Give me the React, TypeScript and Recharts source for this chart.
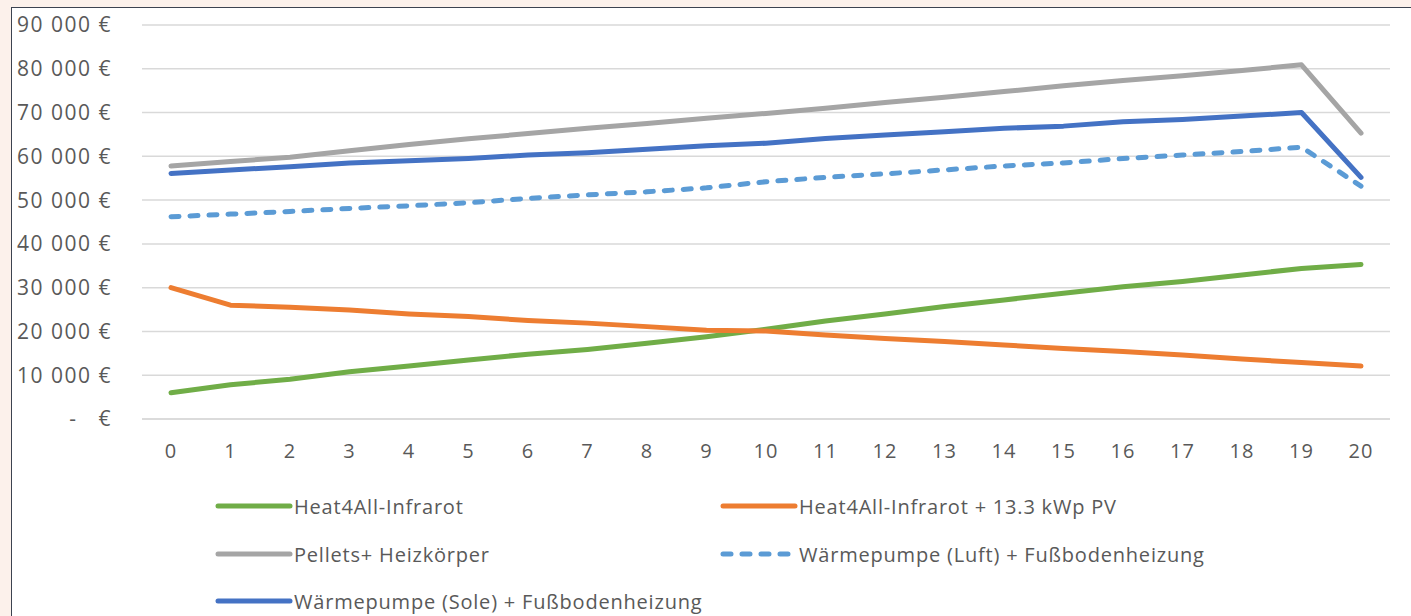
import { LineChart, Line, XAxis, YAxis, CartesianGrid } from 'recharts';

const years = ['0', '1', '2', '3', '4', '5', '6', '7', '8', '9', '10', '11', '12', '13', '14', '15', '16', '17', '18', '19', '20'];

const infrarot = [6000, 7800, 9100, 10800, 12100, 13500, 14800, 15900, 17300, 18800, 20500, 22400, 24000, 25700, 27200, 28700, 30200, 31400, 32900, 34400, 35300];
const infrarotPv = [30000, 26000, 25500, 24900, 24000, 23400, 22500, 21900, 21100, 20300, 20100, 19200, 18400, 17700, 16900, 16100, 15400, 14600, 13700, 12900, 12100];
const pellets = [57800, 58800, 59800, 61300, 62700, 64000, 65200, 66400, 67500, 68700, 69800, 71000, 72300, 73500, 74800, 76100, 77300, 78400, 79600, 80900, 65300];
const wpLuft = [46200, 46800, 47400, 48100, 48700, 49400, 50400, 51200, 51900, 52800, 54200, 55200, 56000, 56900, 57800, 58500, 59500, 60300, 61100, 62100, 53200];
const wpSole = [56100, 56900, 57600, 58500, 59000, 59500, 60300, 60800, 61600, 62400, 63000, 64100, 64900, 65600, 66400, 66900, 67900, 68400, 69200, 70000, 55200];

const yTicks = [0, 10000, 20000, 30000, 40000, 50000, 60000, 70000, 80000, 90000];

const series = [
  { key: 'infrarot', name: 'Heat4All-Infrarot', values: infrarot, color: '#70ad47', dash: undefined },
  { key: 'infrarotPv', name: 'Heat4All-Infrarot + 13.3 kWp PV', values: infrarotPv, color: '#ed7d31', dash: undefined },
  { key: 'pellets', name: 'Pellets+ Heizkörper', values: pellets, color: '#a5a5a5', dash: undefined },
  { key: 'wpLuft', name: 'Wärmepumpe (Luft) + Fußbodenheizung', values: wpLuft, color: '#5b9bd5', dash: '8 11' },
  { key: 'wpSole', name: 'Wärmepumpe (Sole) + Fußbodenheizung', values: wpSole, color: '#4472c4', dash: undefined },
];

const data = years.map((year, i) => {
  const row: Record<string, string | number> = { year };
  series.forEach((s) => {
    row[s.key] = s.values[i];
  });
  return row;
});

const FONT = "'Open Sans', sans-serif";
const TEXT = '#595959';

const formatEuro = (v: number) => {
  if (v === 0) return '-\u00a0\u00a0\u00a0€';
  const s = String(Math.round(v)).replace(/\B(?=(\d{3})+(?!\d))/g, '\u00a0');
  return `${s}\u00a0€`;
};

// legend: left col, right col, next row
const legendPos = [
  { left: 203, top: 506 },
  { left: 708, top: 506 },
  { left: 203, top: 554 },
  { left: 708, top: 554 },
  { left: 203, top: 601 },
];

export default function App() {
  return (
    <div
      style={{
        position: 'fixed',
        left: 0,
        top: 0,
        width: 1411,
        height: 616,
        background: '#fcf1eb',
        overflow: 'hidden',
      }}
    >
      <div
        style={{
          position: 'absolute',
          left: 11,
          top: 7,
          width: 1420,
          height: 640,
          background: '#ffffff',
          borderTop: '1px solid #3c4350',
          borderLeft: '1px solid #3c4350',
        }}
      >
        <LineChart
          width={1399}
          height={608}
          data={data}
          margin={{ top: 17, right: 21, bottom: 167, left: 0 }}
        >
          <CartesianGrid vertical={false} stroke="#d9d9d9" strokeWidth={1.5} />
          <XAxis
            dataKey="year"
            height={30}
            padding={{ left: 29, right: 29 }}
            axisLine={{ stroke: '#d9d9d9', strokeWidth: 1.5 }}
            tickLine={false}
            tickSize={0}
            tickMargin={25}
            interval={0}
            tick={{ fontFamily: FONT, fontSize: 20, fill: TEXT, letterSpacing: 1 }}
          />
          <YAxis
            width={130}
            domain={[0, 90000]}
            ticks={yTicks}
            interval={0}
            axisLine={false}
            tickLine={false}
            tickSize={0}
            tickMargin={30}
            tickFormatter={formatEuro}
            tick={{ fontFamily: FONT, fontSize: 21, fill: TEXT, letterSpacing: 1.5 }}
          />
          {series.map((s) => (
            <Line
              key={s.key}
              type="linear"
              dataKey={s.key}
              name={s.name}
              stroke={s.color}
              strokeWidth={5}
              strokeDasharray={s.dash}
              strokeLinecap="round"
              strokeLinejoin="round"
              dot={false}
              activeDot={false}
              isAnimationActive={false}
            />
          ))}
        </LineChart>
        {series.map((s, i) => (
          <div
            key={s.key}
            style={{
              position: 'absolute',
              left: legendPos[i].left,
              top: legendPos[i].top - 8 - 14,
              height: 28,
              display: 'flex',
              alignItems: 'center',
              fontFamily: FONT,
              fontSize: 20,
              letterSpacing: 0.8,
              color: TEXT,
              whiteSpace: 'nowrap',
            }}
          >
            <svg width={79} height={10}>
              <line
                x1={3}
                y1={5}
                x2={75}
                y2={5}
                stroke={s.color}
                strokeWidth={5}
                strokeLinecap="round"
                strokeDasharray={s.dash ? '8 11' : undefined}
              />
            </svg>
            <span>{s.name}</span>
          </div>
        ))}
      </div>
    </div>
  );
}
